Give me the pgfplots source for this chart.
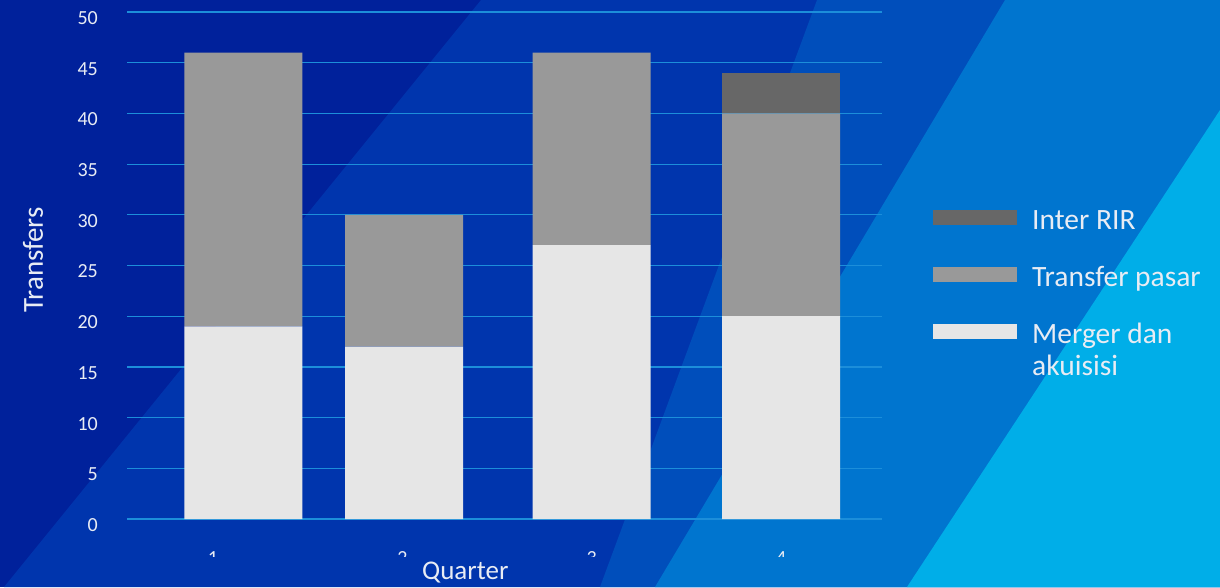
\documentclass[border=0pt]{standalone}
\usepackage{pgfplots}
\pgfplotsset{compat=1.18}
\usepackage{pgfplotstable}
\usepackage{fontspec}
\setmainfont{Carlito}
\definecolor{c1}{HTML}{00219B}
\definecolor{c2}{HTML}{0035AD}
\definecolor{c3}{HTML}{004EBB}
\definecolor{c4}{HTML}{0075CF}
\definecolor{c5}{HTML}{00AEE8}
\definecolor{gridc}{HTML}{1C8EDA}
\definecolor{merger}{HTML}{E6E6E6}
\definecolor{transfer}{HTML}{999999}
\definecolor{inter}{HTML}{676767}
\definecolor{txt}{HTML}{E8ECF4}
\pgfplotstableread{
x merger transfer inter
1.16 19 27 0
2.01 17 13 0
3 27 19 0
4 20 20 4
}\datatable
\newcommand\cliptick[1]{\tikz[baseline={(0pt,45.3pt)}]{\clip (-10pt,8.2pt) rectangle (10pt,20pt); \node[anchor=base,inner sep=0pt,text=txt,font=\fontsize{20pt}{24pt}\selectfont] at (0pt,0pt) {#1};}}
\pgfplotsset{myleg/.style={legend image code/.code={\fill[##1] (0pt,-3pt) rectangle (84pt,12pt);}}}
\begin{document}
\begin{tikzpicture}
% background
\fill[c1] (0pt,0pt) rectangle (1220pt,587pt);
\fill[c2] (4pt,0pt) -- (481pt,587pt) -- (1220pt,587pt) -- (1220pt,0pt) -- cycle;
\fill[c3] (600pt,0pt) -- (817pt,587pt) -- (1220pt,587pt) -- (1220pt,0pt) -- cycle;
\fill[c4] (655pt,0pt) -- (1005pt,587pt) -- (1220pt,587pt) -- (1220pt,0pt) -- cycle;
\fill[c5] (907pt,0pt) -- (1220pt,477pt) -- (1220pt,0pt) -- cycle;
\begin{axis}[
  at={(127pt,68pt)}, anchor=south west,
  scale only axis, width=755pt, height=507pt,
  xmin=0.546, xmax=4.533, ymin=0, ymax=50,
  ybar stacked, bar width=118pt,
  axis line style={draw=none}, tick style={draw=none},
  major tick length=0pt,
  xtick={1,2,3,4},
  xticklabel={\cliptick{\pgfmathprintnumber{\tick}}},
  xticklabel style={anchor=base, inner sep=0pt},
  ytick={0,5,...,50},
  yticklabel style={anchor=east, inner sep=0pt, xshift=-29pt, yshift=-6pt, font=\fontsize{20pt}{24pt}\selectfont, text=txt},
  /pgf/number format/assume math mode=true,
  ymajorgrids, grid style={draw=gridc, line width=1.2pt},
  xlabel={Quarter},
  xlabel style={at={(axis description cs:0.448,0)}, anchor=base, yshift=-60pt, font=\fontsize{27pt}{30pt}\selectfont, text=txt},
  ylabel={Transfers},
  ylabel style={at={(axis description cs:-0.1113,0.511)}, anchor=base, font=\fontsize{29pt}{32pt}\selectfont, text=txt},
  legend cell align=left,
  reverse legend,
  legend style={draw=none, fill=none, at={(axis description cs:1.0675,0.6114)}, anchor=north west,
    font=\fontsize{29.5pt}{32pt}\selectfont, text=txt, inner sep=0pt, row sep=31pt, column sep=15pt,
    nodes={inner sep=0pt, text height=20pt, text depth=6pt}},
]
\addplot[fill=merger, draw=none, myleg] table[x=x, y=merger] {\datatable};
\addlegendentry{\begin{tabular}[t]{@{}l@{}}Merger dan\\akuisisi\end{tabular}}
\addplot[fill=transfer, draw=none, myleg] table[x=x, y=transfer] {\datatable};
\addlegendentry{Transfer pasar}
\addplot[fill=inter, draw=none, myleg] table[x=x, y=inter] {\datatable};
\addlegendentry{Inter RIR}
\end{axis}
\end{tikzpicture}
\end{document}
